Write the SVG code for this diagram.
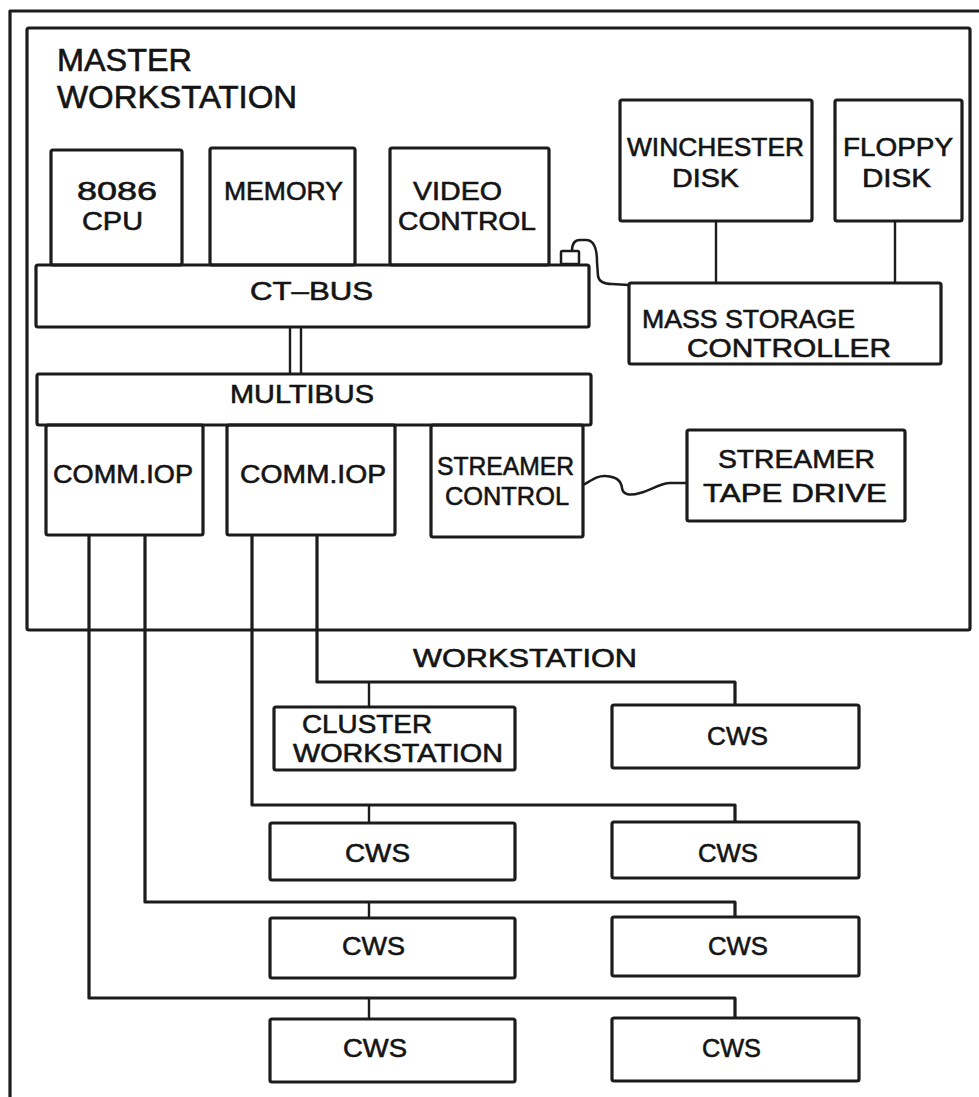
<svg xmlns="http://www.w3.org/2000/svg" width="979" height="1097" viewBox="0 0 979 1097">
<style>
.bx{fill:none;stroke:#1c1c1c;stroke-width:3.2}
.ln{fill:none;stroke:#1c1c1c;stroke-width:3.2;stroke-linejoin:round}
.tap{fill:none;stroke:#1c1c1c;stroke-width:2.4}
.t{font-family:"Liberation Sans",Arial,sans-serif;font-size:26px;fill:#141414;stroke:#141414;stroke-width:0.6}
.big{font-size:31px}
</style>
<rect width="979" height="1097" fill="#ffffff"/>
<path class="ln" d="M10,1097 V11 H979"/>
<g id="master">
<rect class="bx" x="27" y="28" width="943" height="602" rx="2"/>
<text class="t big" x="57" y="71" textLength="135" lengthAdjust="spacingAndGlyphs">MASTER</text>
<text class="t big" x="57" y="108" textLength="240" lengthAdjust="spacingAndGlyphs">WORKSTATION</text>
</g>
<g id="cpu">
<rect class="bx" x="51" y="150" width="131" height="115" rx="2"/>
<text class="t" x="77" y="200" textLength="80" lengthAdjust="spacingAndGlyphs">8086</text>
<text class="t" x="82" y="230" textLength="61" lengthAdjust="spacingAndGlyphs">CPU</text>
</g>
<g id="memory">
<rect class="bx" x="210" y="148" width="145" height="117" rx="2"/>
<text class="t" x="224" y="200" textLength="119" lengthAdjust="spacingAndGlyphs">MEMORY</text>
</g>
<g id="video">
<rect class="bx" x="390" y="148" width="159" height="117" rx="2"/>
<text class="t" x="413" y="200" textLength="89" lengthAdjust="spacingAndGlyphs">VIDEO</text>
<text class="t" x="398" y="230" textLength="138" lengthAdjust="spacingAndGlyphs">CONTROL</text>
</g>
<g id="winchester">
<rect class="bx" x="620" y="100" width="192" height="121" rx="2"/>
<text class="t" x="627" y="156" textLength="177" lengthAdjust="spacingAndGlyphs">WINCHESTER</text>
<text class="t" x="672" y="187" textLength="67" lengthAdjust="spacingAndGlyphs">DISK</text>
</g>
<g id="floppy">
<rect class="bx" x="835" y="100" width="127" height="121" rx="2"/>
<text class="t" x="843" y="156" textLength="110" lengthAdjust="spacingAndGlyphs">FLOPPY</text>
<text class="t" x="862" y="187" textLength="69" lengthAdjust="spacingAndGlyphs">DISK</text>
</g>
<g id="ctbus">
<rect class="bx" x="36" y="265" width="553" height="62" rx="2"/>
<text class="t" x="250" y="300" textLength="123" lengthAdjust="spacingAndGlyphs">CT–BUS</text>
</g>
<g id="msc">
<rect class="bx" x="629" y="283" width="312" height="81" rx="2"/>
<text class="t" x="642" y="328" font-size="28" textLength="213" lengthAdjust="spacingAndGlyphs">MASS STORAGE</text>
<text class="t" x="687" y="357" font-size="28" textLength="204" lengthAdjust="spacingAndGlyphs">CONTROLLER</text>
</g>
<g id="multibus">
<rect class="bx" x="37" y="374" width="554" height="51" rx="2"/>
<text class="t" x="230" y="403" textLength="144" lengthAdjust="spacingAndGlyphs">MULTIBUS</text>
</g>
<g id="iop1">
<rect class="bx" x="46" y="425" width="157" height="110" rx="2"/>
<text class="t" x="53" y="483" font-size="28" textLength="140" lengthAdjust="spacingAndGlyphs">COMM.IOP</text>
</g>
<g id="iop2">
<rect class="bx" x="227" y="425" width="168" height="110" rx="2"/>
<text class="t" x="240" y="483" font-size="28" textLength="146" lengthAdjust="spacingAndGlyphs">COMM.IOP</text>
</g>
<g id="streamerctl">
<rect class="bx" x="431" y="425" width="152" height="112" rx="2"/>
<text class="t" x="437" y="475" font-size="27" textLength="137" lengthAdjust="spacingAndGlyphs">STREAMER</text>
<text class="t" x="445" y="505" font-size="27" textLength="124" lengthAdjust="spacingAndGlyphs">CONTROL</text>
</g>
<g id="tapedrive">
<rect class="bx" x="687" y="430" width="218" height="91" rx="2"/>
<text class="t" x="718" y="468" textLength="157" lengthAdjust="spacingAndGlyphs">STREAMER</text>
<text class="t" x="703" y="502" font-size="27" textLength="184" lengthAdjust="spacingAndGlyphs">TAPE  DRIVE</text>
</g>
<g id="wslabel">
<text class="t" x="413" y="667" textLength="224" lengthAdjust="spacingAndGlyphs">WORKSTATION</text>
</g>
<g id="cluster">
<rect class="bx" x="274" y="707" width="241" height="63" rx="2"/>
<text class="t" x="302" y="733" font-size="24" textLength="130" lengthAdjust="spacingAndGlyphs">CLUSTER</text>
<text class="t" x="293" y="762" font-size="25" textLength="210" lengthAdjust="spacingAndGlyphs">WORKSTATION</text>
</g>
<g id="cws1r">
<rect class="bx" x="612" y="705" width="247" height="63" rx="2"/>
<text class="t" x="707" y="745" textLength="61" lengthAdjust="spacingAndGlyphs">CWS</text>
</g>
<g id="cws2l">
<rect class="bx" x="270" y="823" width="245" height="57" rx="2"/>
<text class="t" x="345" y="862" textLength="65" lengthAdjust="spacingAndGlyphs">CWS</text>
</g>
<g id="cws2r">
<rect class="bx" x="612" y="822" width="247" height="56" rx="2"/>
<text class="t" x="698" y="862" textLength="60" lengthAdjust="spacingAndGlyphs">CWS</text>
</g>
<g id="cws3l">
<rect class="bx" x="270" y="918" width="245" height="60" rx="2"/>
<text class="t" x="342" y="955" textLength="63" lengthAdjust="spacingAndGlyphs">CWS</text>
</g>
<g id="cws3r">
<rect class="bx" x="612" y="917" width="247" height="59" rx="2"/>
<text class="t" x="708" y="955" textLength="60" lengthAdjust="spacingAndGlyphs">CWS</text>
</g>
<g id="cws4l">
<rect class="bx" x="270" y="1019" width="245" height="63" rx="2"/>
<text class="t" x="343" y="1057" textLength="64" lengthAdjust="spacingAndGlyphs">CWS</text>
</g>
<g id="cws4r">
<rect class="bx" x="612" y="1018" width="247" height="63" rx="2"/>
<text class="t" x="702" y="1057" textLength="59" lengthAdjust="spacingAndGlyphs">CWS</text>
</g>
<g id="connectors">
<path class="tap" d="M716,221 V283"/>
<path class="tap" d="M895,221 V283"/>
<rect class="bx" x="561" y="251" width="18" height="13" rx="1.5" style="stroke-width:2.5"/>
<path class="ln" style="stroke-width:2.5" d="M572,251 C572,244 574,240 580,240 L586,240 C594,240 597,250 597,262 L598,276 C599,282 604,284 612,284 L629,285"/>
<path class="tap" d="M290,327 V374 M301,327 V374"/>
<path class="ln" style="stroke-width:2.5" d="M583,485 C592,480 598,475 606,476 C616,477 621,480 622,488 C623,495 630,496 640,493 C652,490 660,483 670,483 L687,483"/>
<path class="ln" d="M89,535 V998 H735 V1019"/>
<path class="tap" d="M369,998 V1019"/>
<path class="ln" d="M145,535 V902 H735 V918"/>
<path class="tap" d="M369,902 V918"/>
<path class="ln" d="M252,535 V805 H735 V823"/>
<path class="tap" d="M369,805 V823"/>
<path class="ln" d="M317,535 V682 H735 V705"/>
<path class="tap" d="M369,682 V707"/>
</g>
</svg>
